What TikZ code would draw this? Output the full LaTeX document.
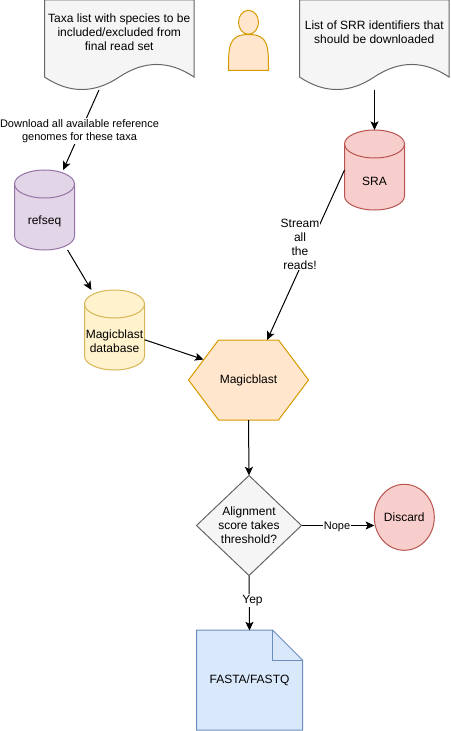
\documentclass[tikz,border=0pt]{standalone}
\usepackage{fontspec}
\setmainfont{Liberation Sans}
\usetikzlibrary{shapes.geometric,arrows.meta}

\definecolor{grayfill}{HTML}{F5F5F5}
\definecolor{graydraw}{HTML}{666666}
\definecolor{yellowfill}{HTML}{FFF2CC}
\definecolor{yellowdraw}{HTML}{D6B656}
\definecolor{orangefill}{HTML}{FFE6CC}
\definecolor{orangedraw}{HTML}{D79B00}
\definecolor{purplefill}{HTML}{E1D5E7}
\definecolor{purpledraw}{HTML}{9673A6}
\definecolor{redfill}{HTML}{F8CECC}
\definecolor{reddraw}{HTML}{B85450}
\definecolor{bluefill}{HTML}{DAE8FC}
\definecolor{bluedraw}{HTML}{6C8EBF}

\tikzset{
  boxtext/.style={font=\fontsize{9}{10.5}\selectfont,align=center,inner sep=0pt,outer sep=0pt},
  edgelabel/.style={font=\fontsize{8.25}{10.15}\selectfont,align=center,fill=white,inner sep=0.6pt},
  link/.style={line width=0.75pt,-{Stealth[length=6.5pt,width=6pt,inset=1.5pt]}},
  outline/.style={line width=0.75pt},
}

\newcommand{\wavedoc}[1]{%
  \draw [outline,draw=graydraw,fill=grayfill,shift={(#1,0)}] (0,0) -- (149.5,0) -- (149.5,77)
    .. controls (124.6,60.3) and (99.7,60.3) .. (74.75,77)
    .. controls (49.8,93.7) and (24.9,93.7) .. (0,77) -- cycle ;
}
% x, y, name, colour prefix, text
\newcommand{\dbase}[5]{%
  \draw [outline,draw=#4draw,fill=#4fill,shift={(#1,#2)}] (-30,-26) -- (-30,26)
    arc [start angle=180,end angle=0,x radius=30,y radius=14] -- (30,-26)
    arc [start angle=0,end angle=-180,x radius=30,y radius=14] -- cycle ;
  \draw [outline,draw=#4draw,shift={(#1,#2)}] (-30,-26) arc [start angle=180,end angle=0,x radius=30,y radius=14] ;
  \node [boxtext,minimum width=45pt,minimum height=60pt] (#3) at (#1,#2) {};
  \node [boxtext] (#3text) at (#1,#2+11.7) {#5};
}

\begin{document}
\begin{tikzpicture}[x=0.75pt,y=0.75pt,yscale=-1,xscale=1]
\useasboundingbox (0,0) rectangle (450,731);

%Documents
\wavedoc{44.5}
\wavedoc{299.5}
\node [boxtext] (taxa) at (119.25,32) {Taxa list with species to be\\included/excluded from\\final read set};
\node [boxtext] (srr) at (374.25,32) {List of SRR identifiers that\\should be downloaded};
\coordinate (taxaend) at (99,90);
\coordinate (srrend) at (374.5,90);

%Person
\draw [outline,draw=orangedraw,fill=orangefill] (228.5,70.5) .. controls (228.5,46) and (228.5,34.5) .. (248.5,34.5) .. controls (268.5,34.5) and (268.5,46) .. (268.5,70.5) -- cycle ;
\draw [outline,draw=orangedraw,fill=orangefill] (248.5,22.3) ellipse (10 and 12) ;

%Cylinders
\dbase{44.5}{210}{refseq}{purple}{refseq}
\dbase{374.5}{170}{sra}{red}{SRA}
\dbase{114.5}{330}{mdb}{yellow}{Magicblast\\database}

%Hexagon
\draw [outline,draw=orangedraw,fill=orangefill] (188.5,380) -- (218.5,340) -- (278.5,340) -- (308.5,380) -- (278.5,420) -- (218.5,420) -- cycle ;
\node [boxtext,minimum width=90pt,minimum height=60pt] (magic) at (248.5,380) {Magicblast};
\coordinate (magicside) at (203.5,359.5);

%Decision and discard
\node [boxtext,outline,diamond,aspect=1.05,draw=graydraw,fill=grayfill,minimum width=78.75pt,minimum height=75pt] (decide) at (249,525.5) {Alignment\\score takes\\threshold?};
\node [boxtext,outline,ellipse,draw=reddraw,fill=redfill,minimum width=45pt,minimum height=49.5pt] (discard) at (404.3,517.3) {Discard};

%Folded page
\draw [outline,draw=bluedraw,fill=bluefill] (196.5,630) -- (272.5,630) -- (302.5,660) -- (302.5,730) -- (196.5,730) -- cycle ;
\draw [outline,draw=bluedraw] (272.5,630) -- (272.5,660) -- (302.5,660) ;
\node [boxtext,minimum width=79.5pt,minimum height=75pt] (fasta) at (249.5,680.5) {FASTA/FASTQ};

%Connectors
\draw [link] (taxaend) -- (refseq.65) ;
\draw [link] (srrend) -- (sra.90) ;
\draw [link] (refseq.300) -- (mdb.120) ;
\draw [link] (sra.180) -- (magic.65) ;
\draw [link] (mdb.342) -- (magicside) ;
\draw [link] (magic.south) -- (decide.north) ;
\draw [link] (decide.east) -- (decide.east -| discard.west) ;
\draw [link] (decide.south) -- (fasta.north) ;

%Connector labels
\node [edgelabel] (dl) at (79.5,131) {Download all available reference\\genomes for these taxa};
\node [edgelabel,font=\fontsize{9}{10.5}\selectfont] (stream) at (300,244) {Stream\\all\\the\\reads!};
\node [edgelabel] (nope) at (337,527) {Nope};
\node [edgelabel,font=\fontsize{9}{10.5}\selectfont] (yep) at (252.5,600.5) {Yep};
\end{tikzpicture}
\end{document}
